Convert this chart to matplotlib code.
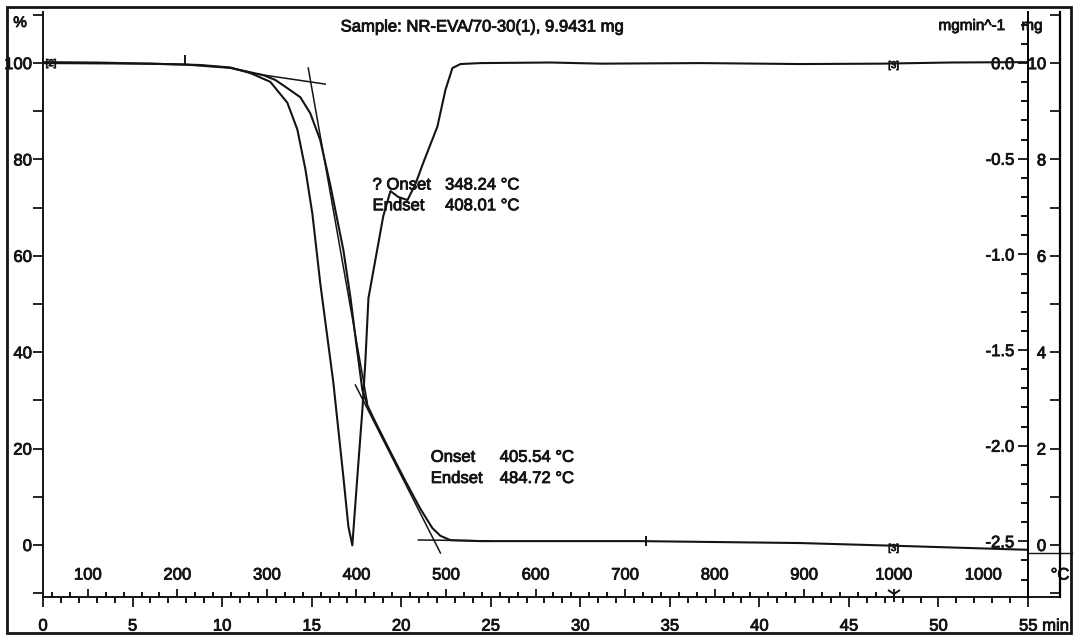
import matplotlib.pyplot as plt
import matplotlib.patheffects as pe
from matplotlib.patches import Rectangle
from matplotlib.text import Text
from matplotlib.ticker import FixedLocator, MultipleLocator
from matplotlib.transforms import blended_transform_factory

plt.rcParams['font.family'] = ['Liberation Sans', 'DejaVu Sans']
plt.rcParams['font.size'] = 12

INK = '#141414'

# temperature program: 50 °C start, 20 K/min up to 1000 °C, then hold
T_START = 50.0
HEAT_RATE = 20.0
T_HOLD = 1000.0

# TGA trace: weight in % against time in min
tga_time = [0.0, 3.19, 7.94, 10.45, 11.57, 12.30, 12.97, 13.64, 14.37, 14.92,
            15.48, 16.04, 16.77, 17.16, 17.50, 17.83, 18.11, 18.56, 19.40, 20.23,
            21.07, 21.74, 22.19, 22.75, 24.43, 33.37, 42.31, 47.90, 55.0]
tga_pct = [100.2, 100.1, 99.7, 99.0, 98.1, 97.5, 96.5, 94.8, 92.9, 89.6,
           84.0, 74.7, 61.2, 51.5, 41.5, 32.2, 29.0, 25.5, 19.3, 13.3,
           7.5, 3.5, 1.9, 1.0, 0.8, 0.8, 0.4, -0.2, -1.0]

# DTG trace: mg/min against time in min
dtg_time = [0.0, 5.98, 8.78, 10.45, 11.57, 12.69, 13.64, 14.20, 14.65, 15.04,
            15.48, 16.21, 16.77, 17.05, 17.27, 17.55, 17.83, 18.00, 18.17, 18.67,
            19.00, 19.40, 19.84, 20.35, 20.79, 21.24, 22.02, 22.47, 22.86, 23.31,
            24.43, 28.34, 31.14, 36.73, 42.31, 46.78, 50.70, 55.0]
dtg_rate = [0.000, -0.003, -0.010, -0.023, -0.052, -0.098, -0.207, -0.347, -0.555, -0.788,
            -1.151, -1.670, -2.163, -2.422, -2.521, -2.163, -1.815, -1.556, -1.229, -0.970,
            -0.799, -0.669, -0.700, -0.716, -0.633, -0.519, -0.332, -0.140, -0.026, -0.005,
            0.000, 0.003, -0.003, 0.000, -0.005, -0.003, 0.003, 0.005]

# tangents for the onset / endset evaluation, (time, %)
step1_base = ([11.57, 15.76], [97.93, 95.64])
step1_slope = ([14.81, 18.11], [98.96, 29.46])
step2_slope = ([17.44, 22.19], [33.20, -1.66])
step2_base = ([20.96, 25.00], [1.04, 0.85])

step1_onset, step1_endset = 348.24, 408.01
step2_onset, step2_endset = 405.54, 484.72

pct_ticks = [0, 20, 40, 60, 80, 100]
pct_minor = [-10, 10, 30, 50, 70, 90, 110]
dtg_ticks = [0.0, -0.5, -1.0, -1.5, -2.0, -2.5]
mg_ticks = [0, 2, 4, 6, 8, 10]
time_ticks = list(range(0, 56, 5))
temp_labels = [100, 200, 300, 400, 500, 600, 700, 800, 900, 1000]
temp_minor = list(range(60, 1001, 20))
hold_label_time = 52.5

SAMPLE = 'Sample: NR-EVA/70-30(1), 9.9431 mg'

PCT_LIM = (-10.8, 110.6)
DTG_SCALE = 39.7      # % of the TGA scale per mg/min


def t_of(temp):
    return (temp - T_START) / HEAT_RATE


fig = plt.figure(figsize=(10.76, 6.35), dpi=100)
ax = fig.add_axes([0.0400, 0.0598, 0.9154, 0.9213])
ax.set_xlim(0, 55)
ax.set_ylim(*PCT_LIM)

ax.plot(tga_time, tga_pct, color=INK, lw=1.5, zorder=3)
for xs, ys in (step1_base, step1_slope, step2_slope, step2_base):
    ax.plot(xs, ys, color=INK, lw=1.1, zorder=3)

# curve tags and evaluation limits
ax.text(0.45, 100.0, '[2]', fontsize=7, ha='center', va='center', color=INK)
ax.text(t_of(T_HOLD), -0.6, '[3]', fontsize=7, ha='center', va='center', color=INK)
ax.plot([7.94], [100.6], marker='|', ms=7, mew=1.4, color=INK)
ax.plot([33.65], [0.8], marker='|', ms=7, mew=1.4, color=INK)

# evaluation results
ax.text(18.4, 74.7, '? Onset', va='center', color=INK)
ax.text(22.45, 74.7, f'{step1_onset:.2f} °C', va='center', color=INK)
ax.text(18.4, 70.4, 'Endset', va='center', color=INK)
ax.text(22.45, 70.4, f'{step1_endset:.2f} °C', va='center', color=INK)
ax.text(21.65, 18.2, 'Onset', va='center', color=INK)
ax.text(25.5, 18.2, f'{step2_onset:.2f} °C', va='center', color=INK)
ax.text(21.65, 13.8, 'Endset', va='center', color=INK)
ax.text(25.5, 13.8, f'{step2_endset:.2f} °C', va='center', color=INK)

# left weight axis and bottom time axis
ax.spines[['top', 'right']].set_visible(False)
for s in ('left', 'bottom'):
    ax.spines[s].set_linewidth(1.4)
    ax.spines[s].set_color(INK)
ax.yaxis.set_major_locator(FixedLocator(pct_ticks))
ax.yaxis.set_minor_locator(FixedLocator(pct_minor))
ax.set_yticklabels([str(v) for v in pct_ticks])
ax.tick_params(axis='y', which='both', direction='out', length=7, width=1.3,
               pad=1, colors=INK)
ax.xaxis.set_major_locator(FixedLocator(time_ticks))
ax.xaxis.set_minor_locator(MultipleLocator(1))
ax.set_xticklabels([str(v) for v in time_ticks[:-1]] + [''])
ax.tick_params(axis='x', which='major', direction='out', length=7, width=1.3,
               pad=8.5, colors=INK)
ax.tick_params(axis='x', which='minor', direction='out', length=4, width=1.3)
ax.annotate('55 min', xy=(55, 0), xycoords=('data', 'axes fraction'),
            xytext=(-6.5, -15.5), textcoords='offset points',
            ha='left', va='top', color=INK)
ax.plot([1.0, 1.0325], [0, 0], transform=ax.transAxes, color=INK, lw=1.4,
        clip_on=False)

# DTG axis on the right edge of the plot
ax2 = ax.twinx()
ax2.set_ylim((PCT_LIM[0] - 100) / DTG_SCALE, (PCT_LIM[1] - 100) / DTG_SCALE)
ax2.plot(dtg_time, dtg_rate, color=INK, lw=1.5, zorder=3)
ax2.text(t_of(T_HOLD), -0.01, '[3]', fontsize=7, ha='center', va='center',
         color=INK)
ax2.spines[['top', 'bottom', 'left']].set_visible(False)
ax2.spines['right'].set_linewidth(1.4)
ax2.yaxis.set_major_locator(FixedLocator(dtg_ticks))
ax2.yaxis.set_minor_locator(MultipleLocator(0.1))
ax2.set_yticklabels([f'{v:.1f}' for v in dtg_ticks], ha='right')
ax2.tick_params(axis='y', which='major', direction='in', length=7, width=1.3,
                pad=-10, colors=INK)
ax2.tick_params(axis='y', which='minor', direction='in', length=5, width=1.3)

# sample mass axis
ax3 = ax.twinx()
ax3.set_ylim(PCT_LIM[0] / 10, PCT_LIM[1] / 10)
ax3.spines[['top', 'bottom', 'left']].set_visible(False)
ax3.spines['right'].set_position(('axes', 1.0325))
ax3.spines['right'].set_linewidth(1.6)
ax3.yaxis.set_major_locator(FixedLocator(mg_ticks))
ax3.yaxis.set_minor_locator(MultipleLocator(1))
ax3.set_yticklabels([str(v) for v in mg_ticks], ha='right')
ax3.tick_params(axis='y', which='both', direction='in', length=7, width=1.3,
                pad=-10, colors=INK)

# furnace temperature scale along the time axis
ax_t = ax.twiny()
ax_t.set_xlim(0, 55)
ax_t.spines[:].set_visible(False)
ax_t.xaxis.set_ticks_position('bottom')
ax_t.xaxis.set_major_locator(FixedLocator([t_of(v) for v in temp_labels]))
ax_t.xaxis.set_minor_locator(FixedLocator([t_of(v) for v in temp_minor]))
ax_t.tick_params(axis='x', which='major', direction='in', length=6, width=1.3,
                 labelbottom=False, labeltop=False, colors=INK)
ax_t.tick_params(axis='x', which='minor', direction='in', length=3.5, width=1.3)

strip = blended_transform_factory(ax.transData, ax.transAxes)
for v in temp_labels:
    ax.text(t_of(v), 0.0376, str(v), transform=strip, ha='center', va='center',
            color=INK)
ax.text(hold_label_time, 0.0376, str(int(T_HOLD)), transform=strip,
        ha='center', va='center', color=INK)
ax.plot([t_of(T_HOLD)], [0.006], transform=strip, marker='1', ms=11, mew=1.4,
        color=INK, clip_on=False)
ax.text(1.0325, 0.0376, '°C', transform=ax.transAxes, ha='center',
        va='center', color=INK)
ax.plot([1.0, 1.0447], [0.0752, 0.0752], transform=ax.transAxes, color=INK,
        lw=1.0, clip_on=False)

# header texts
fig.text(0.0186, 0.9638, '%', ha='center', va='center', fontsize=11, color=INK)
fig.text(0.448, 0.9575, SAMPLE, ha='center', va='center', color=INK)
fig.text(0.903, 0.9590, 'mgmin^-1', ha='center', va='center', fontsize=11,
         color=INK)
fig.text(0.959, 0.9590, 'mg', ha='center', va='center', fontsize=11, color=INK)

fig.add_artist(Rectangle((0.0065, 0.0032), 0.9888, 0.9858,
                         transform=fig.transFigure, fill=False, lw=2,
                         ec=INK))

# printed look: slightly heavier glyphs
fig.canvas.draw()
for t in fig.findobj(Text):
    t.set_path_effects([pe.withStroke(linewidth=0.6, foreground=INK)])

fig.savefig('out.png', dpi=100)
